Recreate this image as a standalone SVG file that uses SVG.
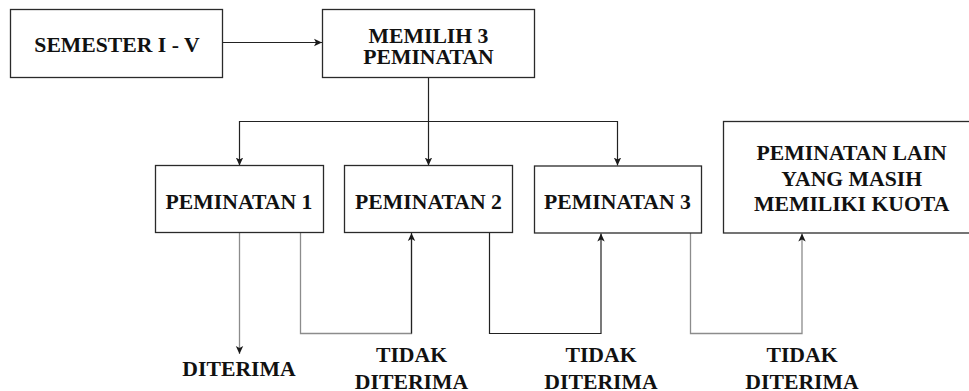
<svg xmlns="http://www.w3.org/2000/svg" width="969" height="391" viewBox="0 0 969 391">
<style>
.box{fill:#fff;stroke:#2a2a2a;stroke-width:1.3}
.t{font-weight:bold;font-size:21.7px;fill:#111;text-anchor:middle}
.dk{fill:none;stroke:#222;stroke-width:1.2}
.gy{fill:none;stroke:#8c8c8c;stroke-width:1.3}
</style>
<defs>
<marker id="ah" markerUnits="userSpaceOnUse" markerWidth="9" markerHeight="9" refX="8" refY="4.5" orient="auto" viewBox="0 0 9 9">
<path d="M0,0.8 L8,4.5 L0,8.2 L2,4.5 Z" fill="#1a1a1a"/>
</marker>
</defs>
<rect width="969" height="391" fill="#fff"/>
<g id="connectors">
<path class="dk" d="M223,42.5 H322" marker-end="url(#ah)"/>
<path class="dk" d="M428.5,77.5 V165.5" marker-end="url(#ah)"/>
<path class="dk" d="M428.5,121.5 H239.5 V165.5" marker-end="url(#ah)"/>
<path class="dk" d="M428.5,121.5 H617.5 V165.5" marker-end="url(#ah)"/>
<path class="gy" d="M239.5,232.5 V354" marker-end="url(#ah)"/>
<path class="gy" d="M300.5,232.5 V333.5 H411.5 V240"/>
<path class="dk" d="M411.5,333.5 V233" marker-end="url(#ah)"/>
<path class="dk" d="M489.5,233 V333.5 H601 V233.5" marker-end="url(#ah)"/>
<path class="gy" d="M690.5,233 V333.5 H802 V233.5" marker-end="url(#ah)"/>
</g>
<g id="semester">
<rect class="box" x="10.5" y="9.5" width="212" height="68"/>
<text class="t" font-family="Liberation Serif, serif" x="117" y="52">SEMESTER I - V</text>
</g>
<g id="memilih">
<rect class="box" x="322.5" y="9.5" width="212" height="68"/>
<text class="t" font-family="Liberation Serif, serif" x="428.5" y="42.5">MEMILIH 3</text>
<text class="t" font-family="Liberation Serif, serif" x="428.5" y="64">PEMINATAN</text>
</g>
<g id="peminatan1">
<rect class="box" x="155.5" y="165.5" width="168" height="67"/>
<text class="t" font-family="Liberation Serif, serif" x="239" y="208.5">PEMINATAN 1</text>
</g>
<g id="peminatan2">
<rect class="box" x="344.5" y="165.5" width="168" height="67"/>
<text class="t" font-family="Liberation Serif, serif" x="428.5" y="208.5">PEMINATAN 2</text>
</g>
<g id="peminatan3">
<rect class="box" x="534.5" y="166" width="167" height="67"/>
<text class="t" font-family="Liberation Serif, serif" x="617.5" y="208.5">PEMINATAN 3</text>
</g>
<g id="peminatan-lain">
<rect class="box" x="723.5" y="121.5" width="257" height="111.5"/>
<text class="t" font-family="Liberation Serif, serif" x="851.7" y="160">PEMINATAN LAIN</text>
<text class="t" font-family="Liberation Serif, serif" x="851.7" y="185.5">YANG MASIH</text>
<text class="t" font-family="Liberation Serif, serif" x="851.7" y="211">MEMILIKI KUOTA</text>
</g>
<g id="label-diterima">
<text class="t" font-family="Liberation Serif, serif" x="239" y="376">DITERIMA</text>
</g>
<g id="label-tidak-1">
<text class="t" font-family="Liberation Serif, serif" x="411.5" y="361.5">TIDAK</text>
<text class="t" font-family="Liberation Serif, serif" x="411.5" y="388.5">DITERIMA</text>
</g>
<g id="label-tidak-2">
<text class="t" font-family="Liberation Serif, serif" x="601" y="361.5">TIDAK</text>
<text class="t" font-family="Liberation Serif, serif" x="601" y="388.5">DITERIMA</text>
</g>
<g id="label-tidak-3">
<text class="t" font-family="Liberation Serif, serif" x="802" y="361.5">TIDAK</text>
<text class="t" font-family="Liberation Serif, serif" x="802" y="388.5">DITERIMA</text>
</g>
</svg>
